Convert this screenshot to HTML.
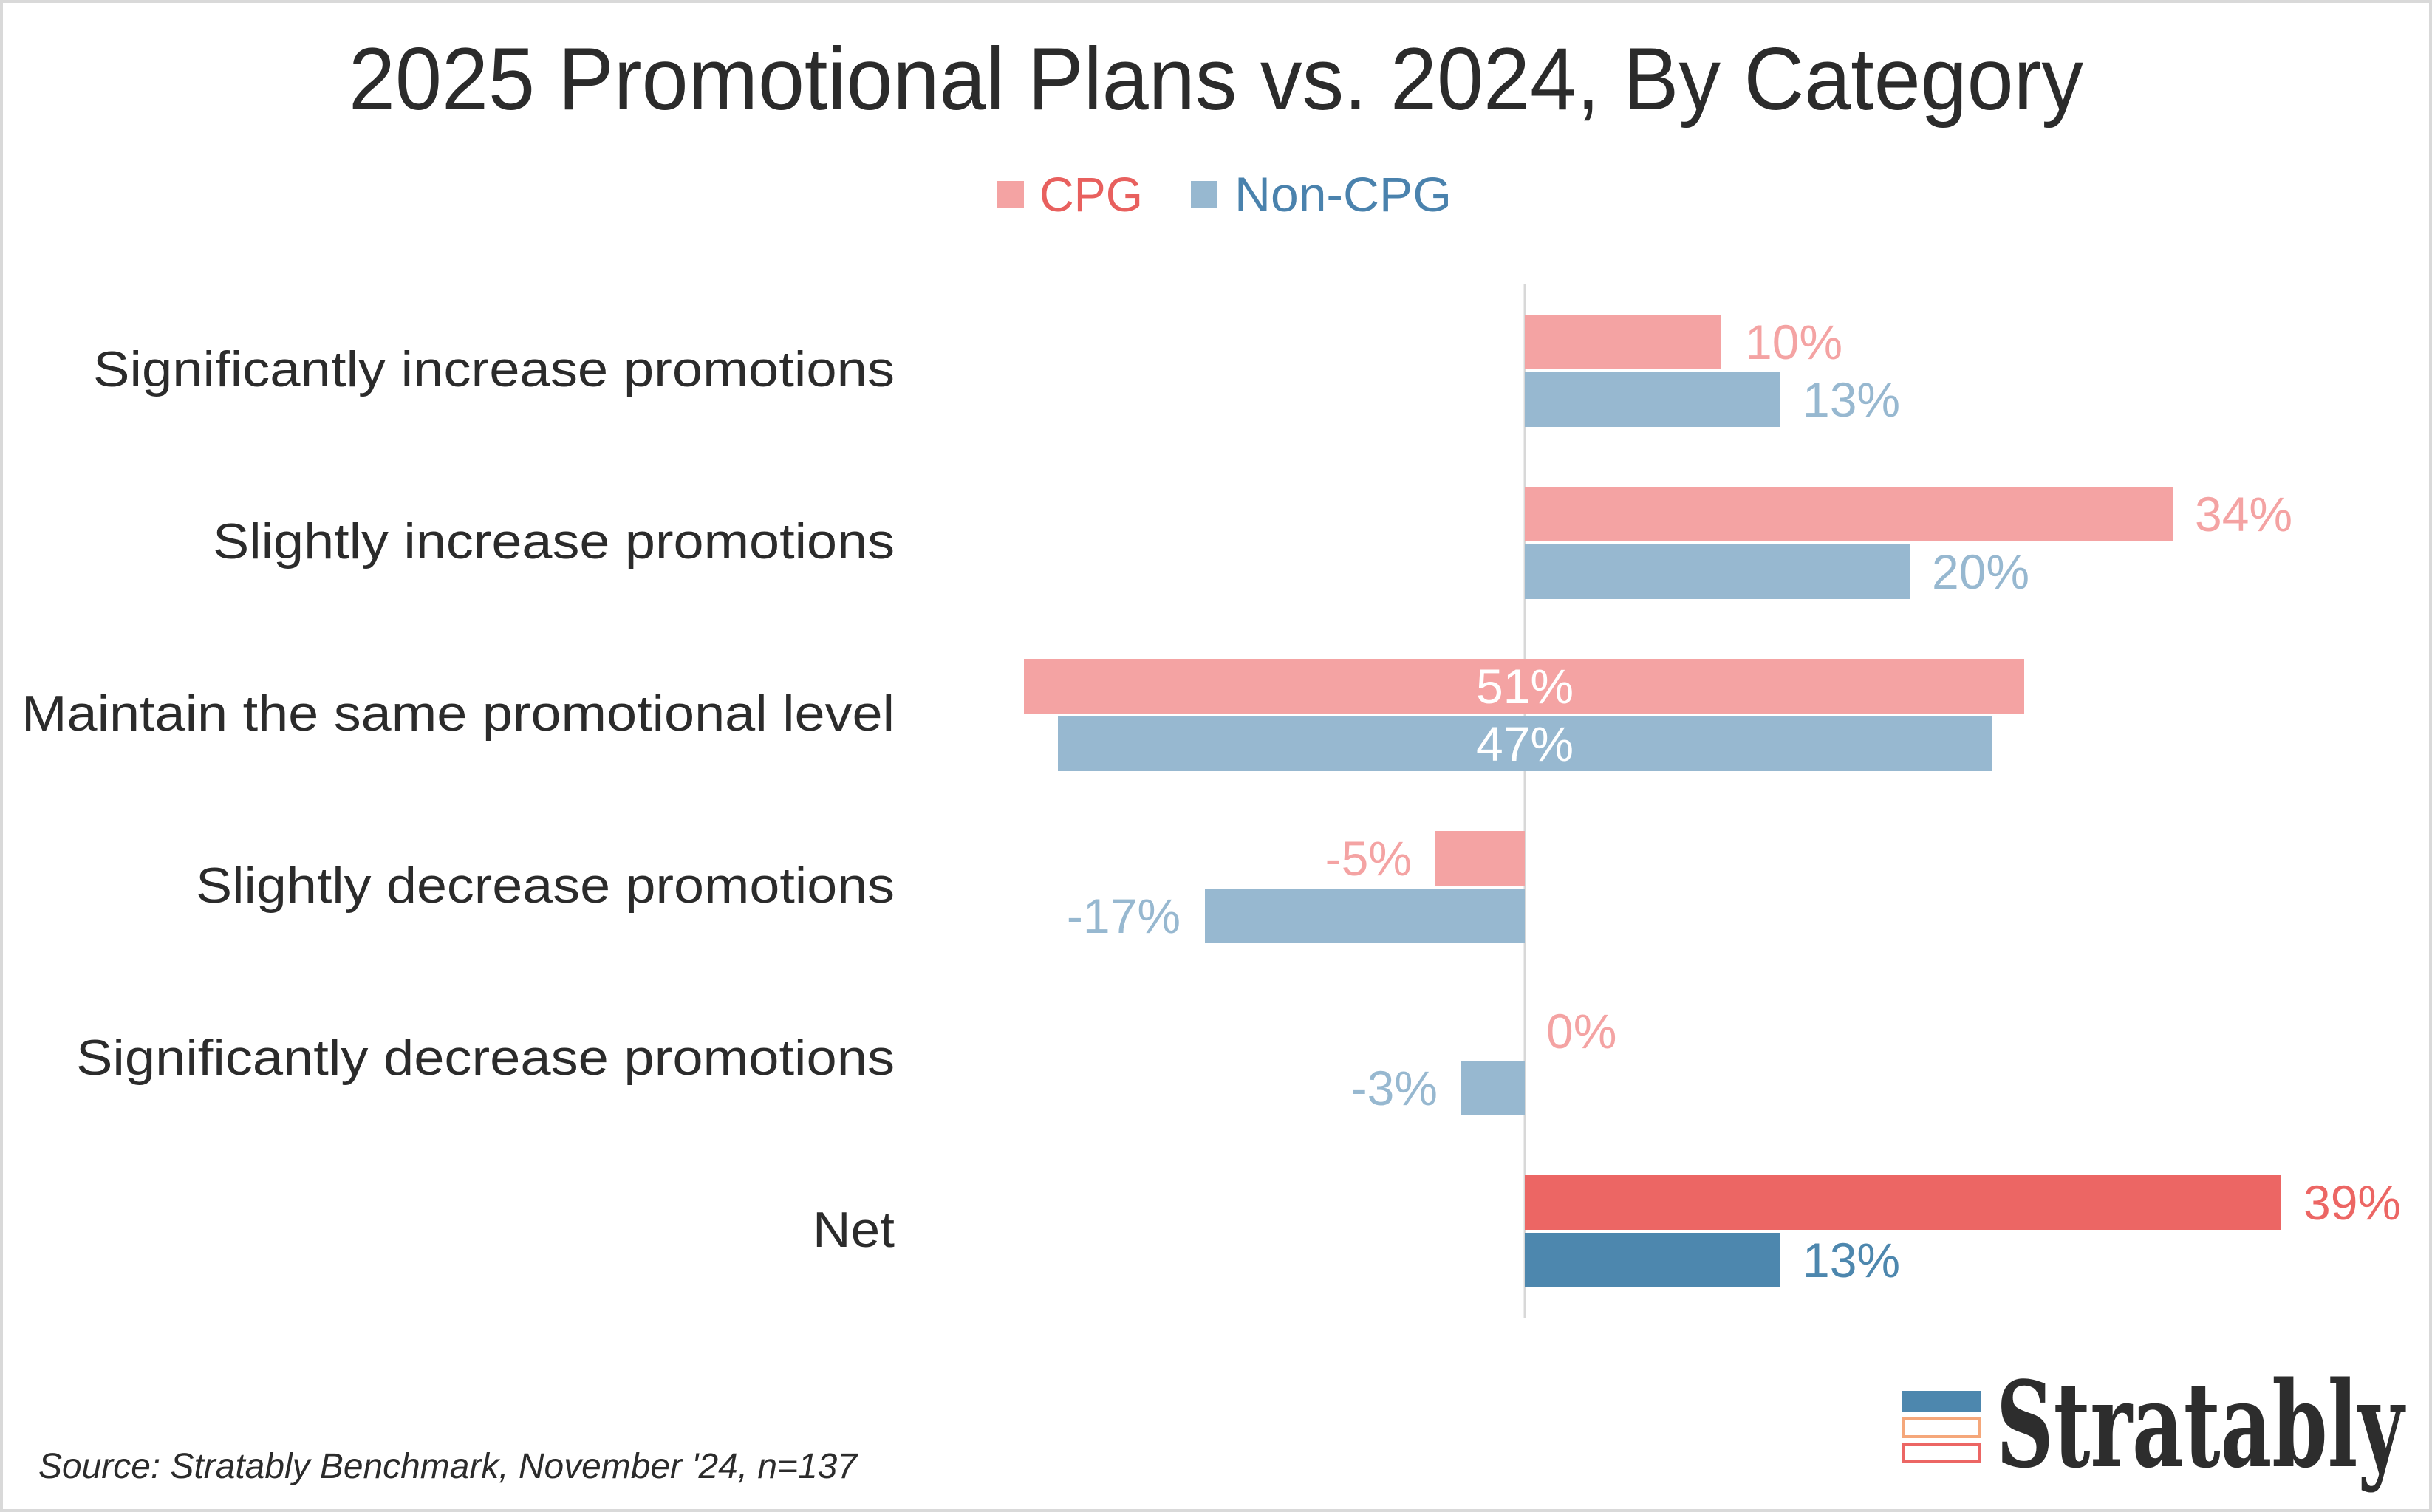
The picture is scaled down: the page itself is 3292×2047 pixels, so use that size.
<!DOCTYPE html>
<html><head><meta charset="utf-8"><style>
html,body{margin:0;padding:0;background:#fff;}
svg{display:block;}
text{font-family:"Liberation Sans",sans-serif;}
</style></head><body>
<svg width="3292" height="2047" viewBox="0 0 3292 2047" xmlns="http://www.w3.org/2000/svg">
<rect x="0" y="0" width="3292" height="2047" fill="#fff"/>
<rect x="2" y="2" width="3288" height="2043" fill="none" stroke="#d9d9d9" stroke-width="4"/>
<text x="1646" y="148" text-anchor="middle" font-size="120" fill="#2b2b2b" textLength="2348" lengthAdjust="spacingAndGlyphs">2025 Promotional Plans vs. 2024, By Category</text>
<rect x="1350" y="245" width="36" height="36" fill="#f4a3a3"/>
<text x="1407" y="286" font-size="66" fill="#e8605e" textLength="140" lengthAdjust="spacingAndGlyphs">CPG</text>
<rect x="1612" y="245" width="36" height="36" fill="#97b8d0"/>
<text x="1671" y="286" font-size="66" fill="#4a82ad" textLength="294" lengthAdjust="spacingAndGlyphs">Non-CPG</text>
<line x1="2064" y1="384" x2="2064" y2="1785" stroke="#d8d8d8" stroke-width="3"/>
<g font-size="68" fill="#2b2b2b" text-anchor="end" dominant-baseline="central">
<text x="1211" y="500" textLength="1085" lengthAdjust="spacingAndGlyphs">Significantly increase promotions</text>
<text x="1211" y="733" textLength="923" lengthAdjust="spacingAndGlyphs">Slightly increase promotions</text>
<text x="1211" y="966" textLength="1182" lengthAdjust="spacingAndGlyphs">Maintain the same promotional level</text>
<text x="1211" y="1199" textLength="946" lengthAdjust="spacingAndGlyphs">Slightly decrease promotions</text>
<text x="1211" y="1432" textLength="1108" lengthAdjust="spacingAndGlyphs">Significantly decrease promotions</text>
<text x="1211" y="1665" textLength="111" lengthAdjust="spacingAndGlyphs">Net</text>
</g>
<rect x="2064" y="426" width="266" height="74" fill="#f4a3a3"/>
<rect x="2064" y="504" width="346" height="74" fill="#97b8d0"/>
<rect x="2064" y="659" width="877" height="74" fill="#f4a3a3"/>
<rect x="2064" y="737" width="521" height="74" fill="#97b8d0"/>
<rect x="1386" y="892" width="1354" height="74" fill="#f4a3a3"/>
<rect x="1432" y="970" width="1264" height="74" fill="#97b8d0"/>
<rect x="1942" y="1125" width="122" height="74" fill="#f4a3a3"/>
<rect x="1631" y="1203" width="433" height="74" fill="#97b8d0"/>
<rect x="1978" y="1436" width="86" height="74" fill="#97b8d0"/>
<rect x="2064" y="1591" width="1024" height="74" fill="#ec6664"/>
<rect x="2064" y="1669" width="346" height="74" fill="#4d87ae"/>
<g font-size="66" dominant-baseline="central">
<text x="2362" y="463" fill="#f4a3a3">10%</text>
<text x="2440" y="541" fill="#97b8d0">13%</text>
<text x="2971" y="696" fill="#f4a3a3">34%</text>
<text x="2615" y="774" fill="#97b8d0">20%</text>
<text x="2064" y="929" fill="#fff" text-anchor="middle">51%</text>
<text x="2064" y="1007" fill="#fff" text-anchor="middle">47%</text>
<text x="1911" y="1162" fill="#f4a3a3" text-anchor="end">-5%</text>
<text x="1598" y="1240" fill="#97b8d0" text-anchor="end">-17%</text>
<text x="2093" y="1396" fill="#f4a3a3">0%</text>
<text x="1946" y="1473" fill="#97b8d0" text-anchor="end">-3%</text>
<text x="3118" y="1628" fill="#ec6664">39%</text>
<text x="2440" y="1706" fill="#4d87ae">13%</text>
</g>
<text x="52" y="2001" font-size="48" font-style="italic" fill="#2b2b2b" textLength="1108" lengthAdjust="spacingAndGlyphs">Source: Stratably Benchmark, November '24, n=137</text>
<rect x="2574" y="1883" width="107" height="28" fill="#4d87ae"/>
<rect x="2576" y="1921" width="103" height="24" fill="none" stroke="#f5a77a" stroke-width="4"/>
<rect x="2576" y="1955" width="103" height="24" fill="none" stroke="#ec6664" stroke-width="4"/>
<text x="2702" y="1985" style="font-family:'DejaVu Serif','Liberation Serif',serif;font-weight:bold;font-size:160px" fill="#2d2d2d" textLength="552" lengthAdjust="spacingAndGlyphs">Stratably</text>
</svg>
</body></html>
